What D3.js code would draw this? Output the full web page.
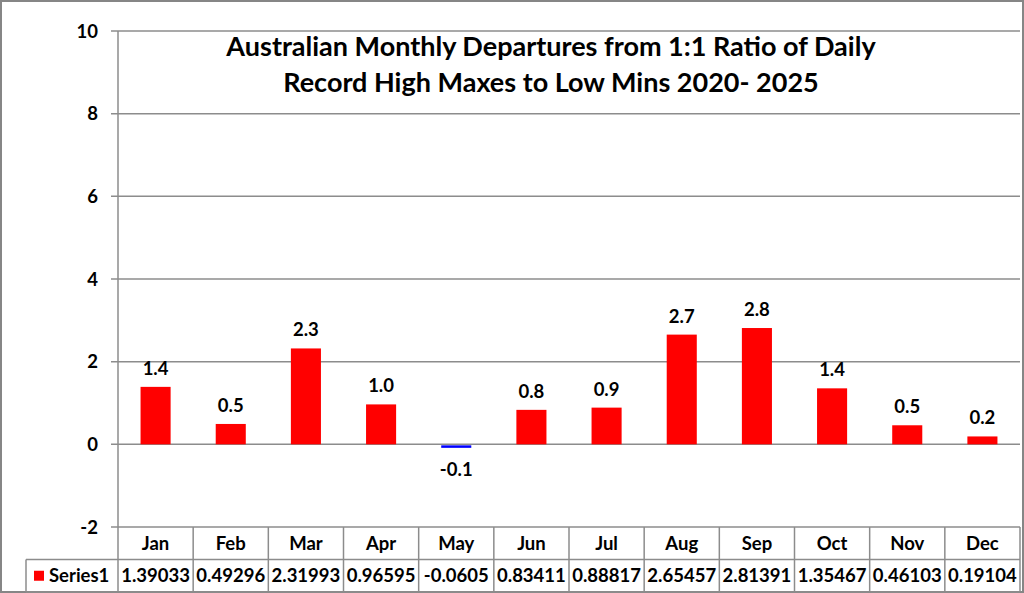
<!DOCTYPE html>
<html><head><meta charset="utf-8">
<script src="https://cdn.jsdelivr.net/npm/d3@7/dist/d3.min.js"></script>
<style>
html,body{margin:0;padding:0;background:#fff;}
svg{display:block;font-family:Lato,"Open Sans",sans-serif;}
</style></head>
<body><svg id="c" width="1024" height="593"></svg>
<script>
const months = ["Jan","Feb","Mar","Apr","May","Jun","Jul","Aug","Sep","Oct","Nov","Dec"];
const values = [1.39033,0.49296,2.31993,0.96595,-0.0605,0.83411,0.88817,2.65457,2.81391,1.35467,0.46103,0.19104];
const tableLabels = ["1.39033","0.49296","2.31993","0.96595","-0.0605","0.83411","0.88817","2.65457","2.81391","1.35467","0.46103","0.19104"];
const yTicks = [-2,0,2,4,6,8,10];
const seriesName = "Series1";
const titleLines = ["Australian Monthly Departures from 1:1 Ratio of Daily","Record High Maxes to Low Mins 2020- 2025"];

const svg = d3.select("#c");
const W = 1024, H = 593;
const L = 118, R = 1020, T = 31, B = 527;
const rowH = 32.5;
const gray = "#8c8c8c";
const fmt = d => d3.format(".1f")(d).replace("\u2212","-");

svg.append("rect").attr("x",1).attr("y",1).attr("width",W-2).attr("height",H-2)
  .attr("fill","#fff").attr("stroke","#868686").attr("stroke-width",2);

const x = d3.scaleBand().domain(months).range([L,R]).paddingInner(0).paddingOuter(0);
const y = d3.scaleLinear().domain([-2,10]).range([B,T]);

svg.append("g").selectAll("line").data(yTicks).join("line")
  .attr("x1",L-7).attr("x2",R).attr("y1",d=>y(d)).attr("y2",d=>y(d))
  .attr("stroke",gray).attr("stroke-width",1.5);
svg.append("line").attr("x1",L).attr("x2",L).attr("y1",T).attr("y2",B)
  .attr("stroke",gray).attr("stroke-width",1.5);

svg.append("g").selectAll("text").data(yTicks).join("text")
  .attr("x",98).attr("y",d=>y(d)).attr("dy","0.36em").attr("text-anchor","end")
  .attr("font-size",18.5).attr("font-weight","bold").attr("fill","#000").text(d=>d);

const bw = x.bandwidth()*0.4;
svg.append("g").selectAll("rect").data(values).join("rect")
  .attr("x",(d,i)=>x(months[i])+(x.bandwidth()-bw)/2)
  .attr("width",bw)
  .attr("y",d=>d>=0?y(d):y(0)+1)
  .attr("height",d=>Math.max(1.5,Math.abs(y(d)-y(0))))
  .attr("fill",d=>d>=0?"#ff0000":"#0000ff");

svg.append("g").selectAll("text").data(values).join("text")
  .attr("x",(d,i)=>x(months[i])+x.bandwidth()/2)
  .attr("y",d=>d>=0?y(d)-12:y(0)+32)
  .attr("text-anchor","middle").attr("font-size",18.5).attr("font-weight","bold")
  .text(d=>fmt(d));

svg.append("g").selectAll("text").data(titleLines).join("text")
  .attr("x",551).attr("y",(d,i)=>56+i*36).attr("text-anchor","middle")
  .attr("font-size",27).attr("font-weight","bold").text(d=>d);

const tb = svg.append("g").attr("stroke",gray).attr("stroke-width",1.5);
tb.append("line").attr("x1",26).attr("x2",R).attr("y1",B+rowH).attr("y2",B+rowH);
tb.append("line").attr("x1",26).attr("x2",R).attr("y1",B+2*rowH).attr("y2",B+2*rowH);
tb.append("line").attr("x1",26).attr("x2",26).attr("y1",B+rowH).attr("y2",B+2*rowH);
const bounds = months.map(m=>x(m)).concat([R]);
tb.selectAll("line.v").data(bounds).join("line").attr("class","v")
  .attr("x1",d=>d).attr("x2",d=>d).attr("y1",B).attr("y2",B+2*rowH);

svg.append("g").selectAll("text").data(months).join("text")
  .attr("x",d=>x(d)+x.bandwidth()/2).attr("y",B+rowH/2).attr("dy","0.36em")
  .attr("text-anchor","middle").attr("font-size",18.5).attr("font-weight","bold").text(d=>d);
svg.append("g").selectAll("text").data(tableLabels).join("text")
  .attr("x",(d,i)=>x(months[i])+x.bandwidth()/2).attr("y",B+rowH*1.5).attr("dy","0.36em")
  .attr("text-anchor","middle").attr("font-size",18.5).attr("font-weight","bold").text(d=>d);

svg.append("rect").attr("x",34).attr("y",B+rowH*1.5-5).attr("width",10).attr("height",10).attr("fill","#ff0000");
svg.append("text").attr("x",49).attr("y",B+rowH*1.5).attr("dy","0.36em")
  .attr("font-size",18.5).attr("font-weight","bold").text(seriesName);
</script></body></html>
